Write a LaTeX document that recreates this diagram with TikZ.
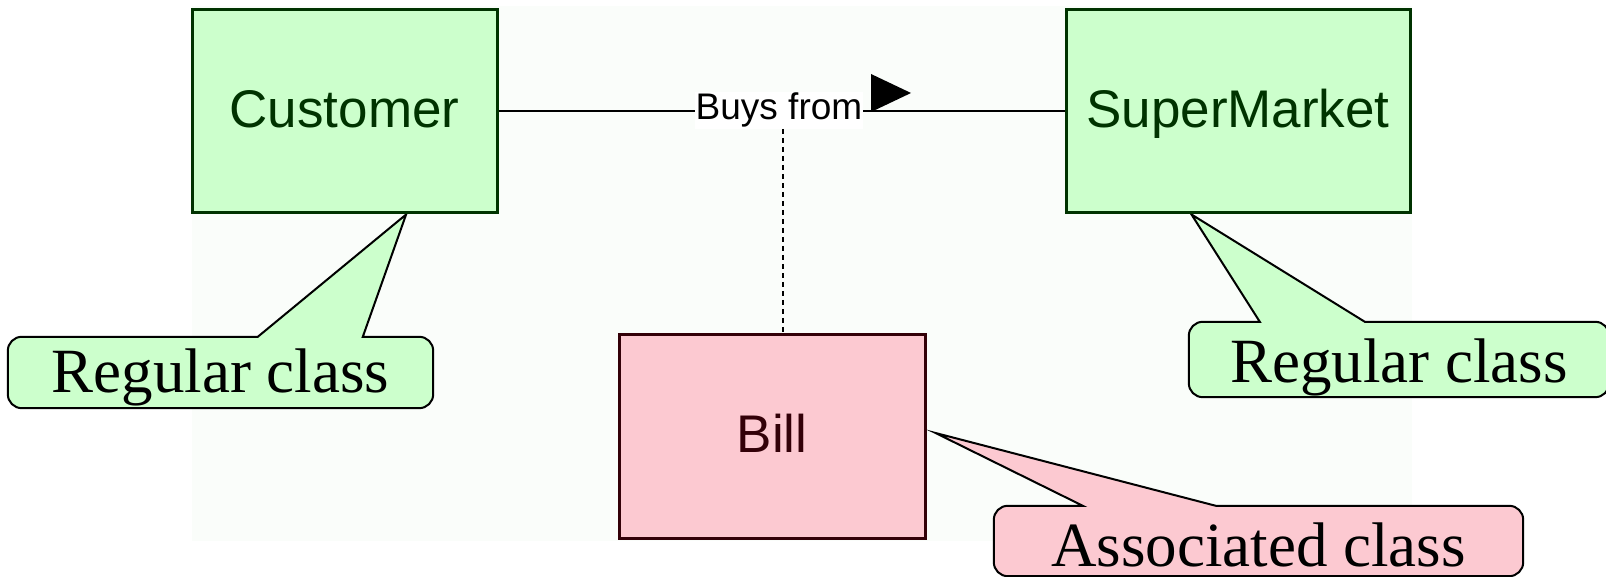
\documentclass[tikz,border=0pt]{standalone}
\usepackage{fontspec}
\setmainfont{Liberation Serif}
\newfontfamily\boxfont{Liberation Sans}
\usetikzlibrary{calc, backgrounds}
\definecolor{classgreen}{RGB}{204,255,204}
\definecolor{classpink}{RGB}{252,201,209}
\definecolor{edgegreen}{RGB}{0,51,0}
\definecolor{edgered}{RGB}{51,0,8}
\definecolor{canvas}{RGB}{250,253,250}

\begin{document}
\begin{tikzpicture}[x=1pt, y=1pt,
    classbox/.style={draw=edgegreen, fill=classgreen, text=edgegreen, line width=3pt,
                     minimum height=203pt, inner sep=0pt, text height=40pt, text depth=8pt,
                     font=\boxfont\fontsize{53}{60}\selectfont},
    assocbox/.style={classbox, draw=edgered, fill=classpink, text=edgered},
    note/.style={inner sep=0pt, text height=41pt, text depth=0pt,
                 font=\fontsize{63}{70}\selectfont},
    bubble/.style={draw=black, line width=2pt},
    link/.style={line width=2pt}
  ]
    \useasboundingbox (0,0) rectangle (1606,577);
    \begin{pgfonlayer}{background}
      \fill[canvas] (192,36) rectangle (1412,571);
    \end{pgfonlayer}

    % classes
    \node[classbox, minimum width=305pt] (customer) at (344.5,465.5) {Customer};
    \node[classbox, minimum width=344pt] (market) at (1238,465.5) {SuperMarket};
    \node[assocbox, minimum width=306pt, minimum height=204pt] (bill) at (772,140) {Bill};

    % association
    \draw[link] (customer) -- (market);
    \node[font=\boxfont\fontsize{37}{40}\selectfont, fill=white, inner sep=1pt, anchor=base]
      (buys) at (779,457) {Buys from};
    \fill (871,503) -- (911,484) -- (871,465) -- cycle;
    \coordinate (assoc) at ($(buys.south)+(4,0)$);
    \draw[link, dash pattern=on 5pt off 4pt] (assoc) -- (assoc |- bill.north);

    % notes
    \node[note, minimum width=425pt, minimum height=71pt] (noteCust) at (220.5,204.5) {Regular class};
    \node[note, minimum width=420pt, minimum height=75pt, text height=47pt] (noteMkt) at (1399,217.5) {Regular class};
    \node[note, minimum width=529pt, minimum height=70pt, text height=52pt] (noteBill) at (1258.5,36) {Associated class};

    \begin{pgfonlayer}{background}
      \draw[bubble, fill=classgreen]
        ($(noteCust.north west)+(100,0)$) -- ($(noteCust.north west)+(250,0)$)
        -- ($(customer.south west)!0.7!(customer.south east)$)
        -- ($(noteCust.north west)+(355,0)$) [rounded corners=14pt] -- (noteCust.north east)
        -- (noteCust.south east) -- (noteCust.south west) -- (noteCust.north west) -- cycle;
      \draw[bubble, fill=classgreen]
        ($(noteMkt.north west)+(35,0)$) -- ($(noteMkt.north west)+(71,0)$)
        -- ($(market.south west)!0.366!(market.south east)$)
        -- ($(noteMkt.north west)+(176,0)$) [rounded corners=14pt] -- (noteMkt.north east)
        -- (noteMkt.south east) -- (noteMkt.south west) -- (noteMkt.north west) -- cycle;
      \draw[bubble, fill=classpink]
        ($(noteBill.north west)+(45,0)$) -- ($(noteBill.north west)+(89,0)$)
        -- ($(bill.east)+(9,4)$)
        -- ($(noteBill.north west)+(222,0)$) [rounded corners=14pt] -- (noteBill.north east)
        -- (noteBill.south east) -- (noteBill.south west) -- (noteBill.north west) -- cycle;
    \end{pgfonlayer}
  \end{tikzpicture}
\end{document}
